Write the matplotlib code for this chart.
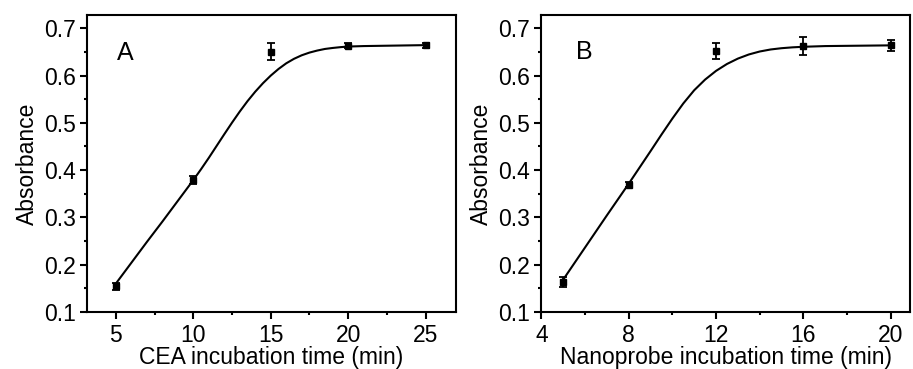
import numpy as np
import matplotlib
matplotlib.use("Agg")
import matplotlib.pyplot as plt
from matplotlib.ticker import MultipleLocator

# panel A: CEA incubation time
cea_time = [5, 10, 15, 20, 25]
cea_abs = [0.154, 0.379, 0.651, 0.663, 0.664]
cea_err = [0.008, 0.008, 0.017, 0.005, 0.005]
cea_fit_x = [5, 6, 7, 8, 9, 10, 10.5, 11, 11.5, 12, 12.5, 13, 13.5, 14, 14.5, 15,
             15.5, 16, 16.5, 17, 17.5, 18, 18.5, 19, 19.5, 20, 21, 22, 23, 24, 25]
cea_fit_y = [0.160, 0.204, 0.248, 0.291, 0.335, 0.379, 0.402, 0.426, 0.451, 0.476,
             0.5005, 0.524, 0.546, 0.566, 0.584, 0.600, 0.614, 0.626, 0.6355, 0.643,
             0.6487, 0.653, 0.6564, 0.6585, 0.6602, 0.6615, 0.6625, 0.663, 0.6635,
             0.664, 0.6645]

# panel B: nanoprobe incubation time
nano_time = [5, 8, 12, 16, 20]
nano_abs = [0.163, 0.369, 0.652, 0.662, 0.664]
nano_err = [0.011, 0.005, 0.017, 0.019, 0.012]
nano_fit_x = [5, 6, 7, 8, 9, 9.5, 10, 10.5, 11, 11.5, 12, 12.5, 13, 13.5, 14, 14.5,
              15, 15.5, 16, 17, 18, 19, 20]
nano_fit_y = [0.168, 0.236, 0.304, 0.371, 0.440, 0.475, 0.509, 0.541, 0.569, 0.5916,
              0.610, 0.6246, 0.636, 0.6447, 0.651, 0.6553, 0.658, 0.6598, 0.661,
              0.6625, 0.663, 0.6635, 0.664]

plt.rcParams.update({
    "font.family": ["Liberation Sans", "DejaVu Sans"],
    "font.size": 16,
    "axes.linewidth": 1.5,
    "xtick.direction": "out",
    "ytick.direction": "out",
    "xtick.major.width": 1.5,
    "ytick.major.width": 1.5,
    "xtick.minor.width": 1.5,
    "ytick.minor.width": 1.5,
    "xtick.major.size": 5,
    "ytick.major.size": 5,
    "xtick.minor.size": 2.5,
    "ytick.minor.size": 2.5,
})

fig = plt.figure(figsize=(9.13, 3.69), dpi=100)
ax_a = fig.add_axes([0.0953, 0.155, 0.4042, 0.804])
ax_b = fig.add_axes([0.5929, 0.155, 0.4038, 0.804])

panels = [
    (ax_a, cea_time, cea_abs, cea_err, cea_fit_x, cea_fit_y, "A",
     "CEA incubation time (min)", (3.13, 26.97), 5, 2.5, (0.081, 0.872)),
    (ax_b, nano_time, nano_abs, nano_err, nano_fit_x, nano_fit_y, "B",
     "Nanoprobe incubation time (min)", (4, 20.88), 4, 2, (0.093, 0.876)),
]

for ax, x, y, err, fx, fy, tag, xlabel, xlim, maj, mnr, tpos in panels:
    ax.plot(fx, fy, color="black", lw=1.5, zorder=2,
            solid_joinstyle="round")
    ax.errorbar(x, y, yerr=err, fmt="s", color="black", ms=5, mec="black",
                elinewidth=1.3, capsize=3, capthick=1.3, zorder=3)
    ax.set_xlim(*xlim)
    ax.set_ylim(0.1, 0.728)
    ax.xaxis.set_major_locator(MultipleLocator(maj))
    ax.xaxis.set_minor_locator(MultipleLocator(mnr))
    ax.yaxis.set_major_locator(MultipleLocator(0.1))
    ax.yaxis.set_minor_locator(MultipleLocator(0.05))
    ax.tick_params(which="both", top=False, right=False)
    ax.tick_params(axis="x", which="major", labelsize=16.5, pad=4)
    ax.tick_params(axis="y", which="major", labelsize=16.5, pad=3)
    ax.set_xlabel(xlabel, fontsize=16.5, labelpad=-1)
    ax.set_ylabel("Absorbance", fontsize=16.5, labelpad=4)
    ax.text(tpos[0], tpos[1], tag, transform=ax.transAxes, fontsize=18,
            ha="left", va="center")

fig.savefig("out.png", dpi=100)
